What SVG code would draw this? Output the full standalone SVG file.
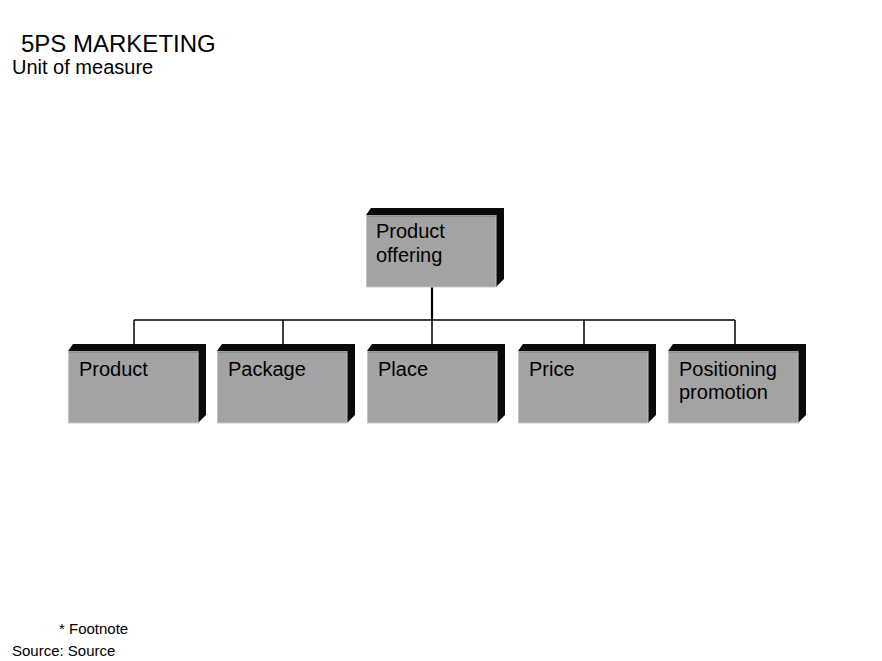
<svg xmlns="http://www.w3.org/2000/svg" width="882" height="661" viewBox="0 0 882 661">
<defs>
<style>
text{font-family:"Liberation Sans",Arial,sans-serif;fill:#000}
.lbl{font-size:20px}
.dark{fill:#0a0a0a}
.face{fill:#a3a3a3;stroke:#c4c4c4;stroke-width:1}
.sep{stroke:#7a7a7a;stroke-width:1}
.conn{stroke:#000;stroke-width:1.5;fill:none}
</style>
<g id="box">
<polygon class="dark" points="0,7 5,0 138,0 138,71 130,79 130,7"/>
<rect class="face" x="0.5" y="7.5" width="129.5" height="71.5"/>
<line class="sep" x1="1" y1="8" x2="130" y2="8"/>
</g>
</defs>
<rect width="882" height="661" fill="#fff"/>
<text x="21" y="52" style="font-size:24px">5PS MARKETING</text>
<text x="12" y="74" style="font-size:20px">Unit of measure</text>
<g id="connectors">
<line x1="432" y1="287" x2="432" y2="320" stroke="#000" stroke-width="2.2"/>
<line class="conn" x1="134" y1="320" x2="735" y2="320"/>
<line class="conn" x1="134" y1="320" x2="134" y2="345"/>
<line class="conn" x1="283" y1="320" x2="283" y2="345"/>
<line class="conn" x1="432" y1="320" x2="432" y2="345"/>
<line class="conn" x1="584" y1="320" x2="584" y2="345"/>
<line class="conn" x1="735" y1="320" x2="735" y2="345"/>
</g>
<g id="node-offering">
<use href="#box" x="366" y="208"/>
<text class="lbl" x="376" y="238">Product</text>
<text class="lbl" x="376" y="262">offering</text>
</g>
<g id="node-product">
<use href="#box" x="68" y="344"/>
<text class="lbl" x="79" y="376">Product</text>
</g>
<g id="node-package">
<use href="#box" x="217" y="344"/>
<text class="lbl" x="228" y="376">Package</text>
</g>
<g id="node-place">
<use href="#box" x="367" y="344"/>
<text class="lbl" x="378" y="376">Place</text>
</g>
<g id="node-price">
<use href="#box" x="518" y="344"/>
<text class="lbl" x="529" y="376">Price</text>
</g>
<g id="node-positioning">
<use href="#box" x="668" y="344"/>
<text class="lbl" x="679" y="376">Positioning</text>
<text class="lbl" x="679" y="399">promotion</text>
</g>
<text x="59" y="634" style="font-size:15px">* Footnote</text>
<text x="12" y="656" style="font-size:15px">Source: Source</text>
</svg>
